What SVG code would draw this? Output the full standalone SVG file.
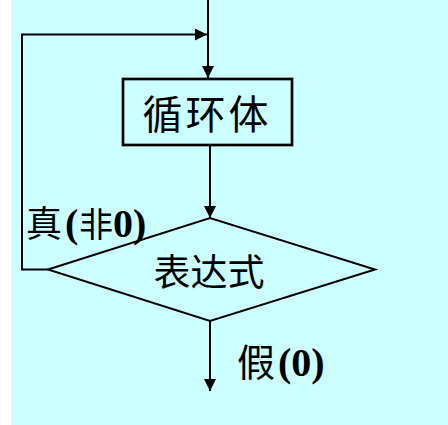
<svg xmlns="http://www.w3.org/2000/svg" width="448" height="425" viewBox="0 0 448 425">
  <style>
    .ln { fill: none; stroke: #000; stroke-width: 2; }
    .cjk { font-family: "Noto Sans CJK SC", "Noto Sans CJK TC", sans-serif; fill: #000; }
    .lat { font-family: "Liberation Serif", "Times New Roman", serif; font-weight: bold; fill: #000; }
  </style>
  <defs>
    <marker id="arrow" viewBox="0 0 12 12" refX="12" refY="6" markerWidth="12" markerHeight="12" markerUnits="userSpaceOnUse" orient="auto">
      <path d="M0,0 L12,6 L0,12 z" fill="#000"/>
    </marker>
  </defs>
  <rect x="0" y="0" width="448" height="425" fill="#FFFFFF"/>
  <rect x="11" y="0" width="437" height="425" fill="#CCFFFF"/>

  <g id="connectors">
    <path class="ln" d="M208,0 V78" marker-end="url(#arrow)"/>
    <path class="ln" d="M48,269.5 H22 V34.5 H207" marker-end="url(#arrow)"/>
    <path class="ln" d="M210,145 V218" marker-end="url(#arrow)"/>
    <path class="ln" d="M210,321 V391" marker-end="url(#arrow)"/>
  </g>

  <g id="loop-body">
    <rect x="123" y="79" width="169" height="66" fill="none" stroke="#000" stroke-width="2.7"/>
    <text class="cjk" x="207" y="129" font-size="40" text-anchor="middle" letter-spacing="3">循环体</text>
  </g>

  <g id="condition">
    <polygon points="48,269.5 210,218 375,269.5 210,321" fill="none" stroke="#000" stroke-width="2"/>
    <text class="cjk" x="209" y="285.5" font-size="37" text-anchor="middle">表达式</text>
  </g>

  <g id="label-true">
    <text y="237"><tspan class="cjk" x="26" font-size="36">真</tspan><tspan class="lat" x="65" font-size="40">(</tspan><tspan class="cjk" x="79" font-size="34">非</tspan><tspan class="lat" x="113" font-size="40">0)</tspan></text>
  </g>

  <g id="label-false">
    <text y="376"><tspan class="cjk" x="237" font-size="38">假</tspan><tspan class="lat" x="278" font-size="40">(0)</tspan></text>
  </g>
</svg>
